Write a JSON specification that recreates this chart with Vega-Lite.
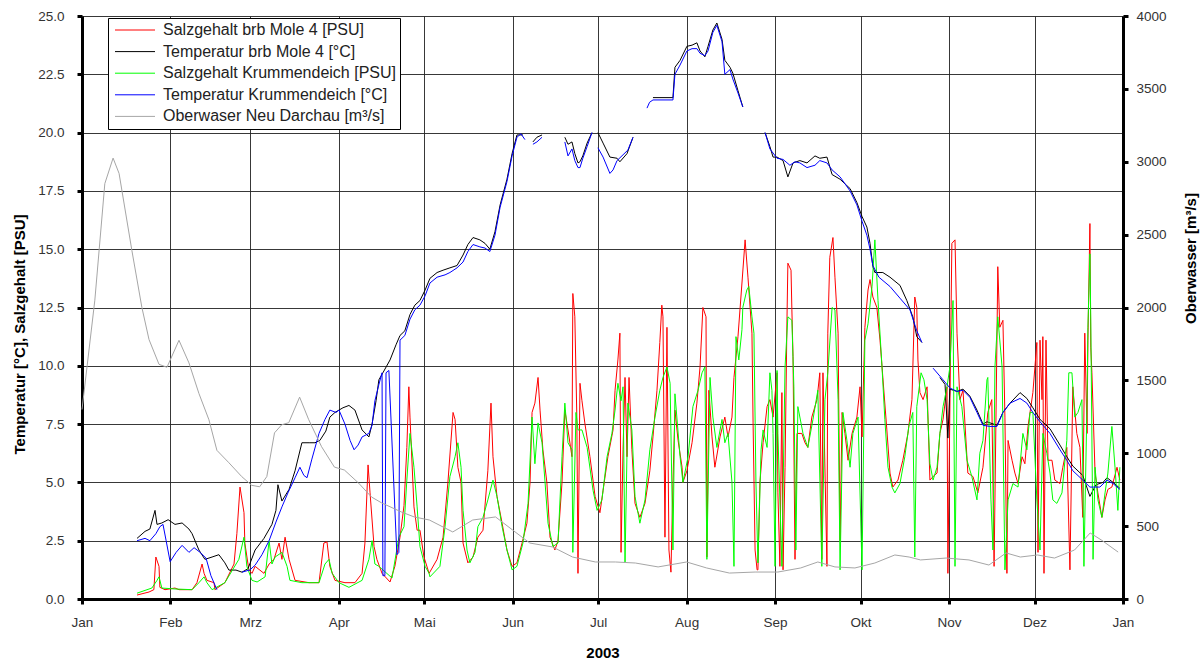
{
  "$schema": "https://vega.github.io/schema/vega-lite/v6.json",
  "width": 1041,
  "height": 583,
  "autosize": {"type": "none"},
  "padding": {"left": 82, "top": 16, "right": 81, "bottom": 63},
  "background": "#ffffff",
  "config": {
    "font": "Liberation Sans",
    "view": {"stroke": null},
    "axis": {
      "labelFont": "Liberation Sans", "labelFontSize": 13.5, "labelColor": "#333333",
      "titleFont": "Liberation Sans", "titleFontSize": 15, "titleFontWeight": "bold", "titleColor": "#000000",
      "domainColor": "#000000", "domainWidth": 3, "tickColor": "#000000", "tickWidth": 3, "tickSize": 5,
      "gridColor": "#222222", "gridWidth": 1, "gridOpacity": 0.9
    },
    "legend": {"labelFont": "Liberation Sans"}
  },
  "encoding": {
    "x": {
      "field": "d", "type": "quantitative",
      "scale": {"domain": [0, 365], "nice": false, "zero": false},
      "axis": {
        "values": [0, 31, 59, 90, 120, 151, 181, 212, 243, 273, 304, 334, 365],
        "labelExpr": "['Jan','Feb','Mrz','Apr','Mai','Jun','Jul','Aug','Sep','Okt','Nov','Dez','Jan'][indexof([0,31,59,90,120,151,181,212,243,273,304,334,365], datum.value)]",
        "labelFlush": false, "labelPadding": 11, "grid": true,
        "title": "2003", "titleY": 53, "titleBaseline": "middle"
      }
    }
  },
  "layer": [
    {
      "encoding": {
        "y": {
          "field": "v", "type": "quantitative",
          "scale": {"domain": [0, 25], "nice": false, "zero": true},
          "axis": {
            "values": [0, 2.5, 5, 7.5, 10, 12.5, 15, 17.5, 20, 22.5, 25],
            "format": ".1f", "grid": true, "labelPadding": 13,
            "title": "Temperatur [°C], Salzgehalt [PSU]",
            "titleAngle": 270, "titleX": -63, "titleY": 318, "titleBaseline": "middle", "titleAlign": "center"
          }
        }
      },
      "layer": [
        {
          "data": {"values": [
            {"d":19.3,"v":0.17},{"d":23.5,"v":0.3},{"d":25.2,"v":0.4},{"d":25.9,"v":1.8},{"d":27.0,"v":1.4},{"d":27.3,"v":0.5},{"d":29.1,"v":0.4},{"d":32.6,"v":0.47},{"d":34.0,"v":0.4},{"d":38.6,"v":0.4},{"d":40.3,"v":0.7},{"d":42.1,"v":1.5},{"d":42.8,"v":1.1},{"d":43.8,"v":0.8},{"d":46.3,"v":0.7},{"d":46.6,"v":0.4},{"d":50.1,"v":0.7},{"d":53.3,"v":1.5},{"d":54.3,"v":2.8},{"d":55.4,"v":4.8},{"d":56.8,"v":3.7},{"d":57.1,"v":2.4},{"d":58.5,"v":1.25},{"d":59.6,"v":1.1},{"d":60.7,"v":1.4},{"d":63.8,"v":1.1},{"d":65.6,"v":1.5},{"d":67.3,"v":1.7},{"d":69.1,"v":2.4},{"d":70.1,"v":1.7},{"d":71.2,"v":2.65},{"d":72.6,"v":1.7},{"d":74.7,"v":0.8},{"d":79.6,"v":0.7},{"d":83.1,"v":0.7},{"d":84.8,"v":2.4},{"d":85.9,"v":2.45},{"d":86.9,"v":1.4},{"d":88.7,"v":0.8},{"d":92.2,"v":0.7},{"d":95.7,"v":0.7},{"d":98.2,"v":1.1},{"d":99.2,"v":2.4},{"d":100.3,"v":5.75},{"d":101.0,"v":4.55},{"d":102.4,"v":2.25},{"d":103.4,"v":1.7},{"d":105.2,"v":1.1},{"d":108.0,"v":0.73},{"d":109.7,"v":1.4},{"d":111.5,"v":2.65},{"d":112.9,"v":4.0},{"d":113.9,"v":6.5},{"d":114.6,"v":9.1},{"d":115.0,"v":7.8},{"d":116.4,"v":3.95},{"d":117.5,"v":2.95},{"d":118.5,"v":2.95},{"d":119.9,"v":1.8},{"d":121.7,"v":1.1},{"d":124.5,"v":1.7},{"d":126.6,"v":2.65},{"d":128.3,"v":5.0},{"d":130.1,"v":8.0},{"d":130.8,"v":7.7},{"d":131.8,"v":5.65},{"d":132.9,"v":5.0},{"d":133.6,"v":2.4},{"d":135.3,"v":1.55},{"d":137.1,"v":1.8},{"d":138.8,"v":2.65},{"d":140.6,"v":2.95},{"d":142.3,"v":5.5},{"d":143.4,"v":8.4},{"d":144.1,"v":6.1},{"d":145.5,"v":4.4},{"d":147.3,"v":3.25},{"d":149.0,"v":2.1},{"d":150.8,"v":1.4},{"d":152.5,"v":1.55},{"d":154.3,"v":2.4},{"d":156.0,"v":3.25},{"d":157.1,"v":5.0},{"d":157.8,"v":8.0},{"d":158.8,"v":8.4},{"d":159.9,"v":9.5},{"d":160.6,"v":8.1},{"d":161.6,"v":6.4},{"d":163.0,"v":5.0},{"d":164.1,"v":2.65},{"d":165.8,"v":2.1},{"d":166.9,"v":2.5},{"d":168.3,"v":5.0},{"d":169.3,"v":8.1},{"d":170.4,"v":7.25},{"d":171.8,"v":6.1},{"d":172.1,"v":13.1},{"d":172.8,"v":12.1},{"d":173.5,"v":7.8},{"d":173.9,"v":1.1},{"d":174.6,"v":9.25},{"d":175.3,"v":8.5},{"d":176.3,"v":7.55},{"d":178.1,"v":6.1},{"d":179.9,"v":4.4},{"d":181.6,"v":3.7},{"d":182.7,"v":4.65},{"d":184.4,"v":6.1},{"d":186.2,"v":7.25},{"d":186.9,"v":8.95},{"d":187.9,"v":10.25},{"d":188.6,"v":11.4},{"d":189.0,"v":2.0},{"d":189.7,"v":6.4},{"d":190.4,"v":9.5},{"d":191.1,"v":6.1},{"d":191.8,"v":9.5},{"d":192.8,"v":6.4},{"d":193.9,"v":4.1},{"d":195.6,"v":3.5},{"d":197.4,"v":4.1},{"d":199.1,"v":5.5},{"d":200.2,"v":6.95},{"d":201.6,"v":8.95},{"d":202.6,"v":11.0},{"d":203.3,"v":12.6},{"d":203.7,"v":12.1},{"d":204.4,"v":2.65},{"d":205.1,"v":11.65},{"d":205.8,"v":2.1},{"d":206.5,"v":1.15},{"d":207.2,"v":5.0},{"d":207.9,"v":8.1},{"d":209.0,"v":6.8},{"d":210.4,"v":5.65},{"d":210.7,"v":5.0},{"d":212.1,"v":5.5},{"d":213.9,"v":6.7},{"d":215.6,"v":8.4},{"d":216.7,"v":9.95},{"d":217.7,"v":12.5},{"d":218.8,"v":12.1},{"d":219.1,"v":1.8},{"d":219.8,"v":8.95},{"d":220.9,"v":6.95},{"d":221.9,"v":5.65},{"d":223.7,"v":6.95},{"d":225.4,"v":7.8},{"d":226.5,"v":6.95},{"d":227.9,"v":7.8},{"d":228.6,"v":9.5},{"d":230.0,"v":11.25},{"d":231.4,"v":13.55},{"d":232.5,"v":15.4},{"d":233.5,"v":13.8},{"d":234.9,"v":11.4},{"d":235.3,"v":7.55},{"d":236.0,"v":2.1},{"d":236.7,"v":1.25},{"d":237.0,"v":1.25},{"d":237.7,"v":5.0},{"d":238.8,"v":6.7},{"d":240.2,"v":8.25},{"d":241.2,"v":8.55},{"d":242.3,"v":7.8},{"d":243.7,"v":9.7},{"d":244.0,"v":4.55},{"d":244.7,"v":1.4},{"d":245.4,"v":8.85},{"d":245.8,"v":1.25},{"d":246.5,"v":5.65},{"d":247.2,"v":12.1},{"d":247.5,"v":14.4},{"d":248.6,"v":14.1},{"d":248.9,"v":12.4},{"d":249.3,"v":10.4},{"d":250.0,"v":1.7},{"d":250.7,"v":7.1},{"d":252.4,"v":7.1},{"d":253.5,"v":6.7},{"d":254.5,"v":6.5},{"d":255.9,"v":7.8},{"d":257.7,"v":8.55},{"d":258.7,"v":9.7},{"d":259.4,"v":1.7},{"d":259.8,"v":9.7},{"d":261.2,"v":1.4},{"d":261.5,"v":11.4},{"d":262.2,"v":14.65},{"d":263.3,"v":15.5},{"d":264.0,"v":13.8},{"d":265.1,"v":11.4},{"d":265.8,"v":2.5},{"d":266.5,"v":8.0},{"d":267.5,"v":7.1},{"d":268.6,"v":5.95},{"d":270.0,"v":7.1},{"d":271.7,"v":7.8},{"d":272.8,"v":9.1},{"d":273.5,"v":6.95},{"d":274.5,"v":11.65},{"d":275.6,"v":13.25},{"d":276.3,"v":13.7},{"d":277.3,"v":12.95},{"d":278.7,"v":12.5},{"d":279.8,"v":11.1},{"d":280.8,"v":9.5},{"d":282.2,"v":7.25},{"d":283.3,"v":5.4},{"d":284.3,"v":4.8},{"d":286.1,"v":5.1},{"d":287.8,"v":5.95},{"d":289.6,"v":7.1},{"d":291.0,"v":8.55},{"d":292.0,"v":12.95},{"d":292.7,"v":12.5},{"d":293.1,"v":10.25},{"d":293.8,"v":8.85},{"d":294.9,"v":8.55},{"d":296.3,"v":9.1},{"d":297.3,"v":5.1},{"d":298.4,"v":5.25},{"d":299.8,"v":5.4},{"d":300.8,"v":7.1},{"d":301.9,"v":7.7},{"d":303.3,"v":9.1},{"d":303.6,"v":1.1},{"d":305.0,"v":15.25},{"d":306.1,"v":15.4},{"d":306.8,"v":11.4},{"d":307.8,"v":8.55},{"d":308.9,"v":8.95},{"d":310.6,"v":5.4},{"d":312.4,"v":5.25},{"d":314.1,"v":4.55},{"d":315.9,"v":5.65},{"d":317.6,"v":8.0},{"d":319.0,"v":8.55},{"d":319.8,"v":1.4},{"d":320.8,"v":11.1},{"d":321.1,"v":14.25},{"d":321.8,"v":11.65},{"d":322.9,"v":11.95},{"d":323.6,"v":7.8},{"d":324.3,"v":1.1},{"d":324.7,"v":6.8},{"d":326.1,"v":5.95},{"d":327.1,"v":5.4},{"d":328.2,"v":4.95},{"d":329.6,"v":6.1},{"d":330.6,"v":5.8},{"d":331.7,"v":7.4},{"d":333.4,"v":8.85},{"d":334.8,"v":11.0},{"d":335.2,"v":2.0},{"d":335.9,"v":11.1},{"d":336.6,"v":8.55},{"d":336.9,"v":11.25},{"d":337.3,"v":1.1},{"d":338.0,"v":11.1},{"d":338.7,"v":5.95},{"d":340.1,"v":5.95},{"d":341.1,"v":5.1},{"d":342.9,"v":4.95},{"d":343.9,"v":5.65},{"d":345.3,"v":6.5},{"d":346.4,"v":1.25},{"d":347.4,"v":9.1},{"d":348.8,"v":7.1},{"d":349.9,"v":6.5},{"d":350.9,"v":3.5},{"d":351.6,"v":11.4},{"d":352.4,"v":7.1},{"d":352.7,"v":11.1},{"d":353.4,"v":16.1},{"d":353.7,"v":10.8},{"d":354.1,"v":9.7},{"d":355.2,"v":5.4},{"d":356.2,"v":4.55},{"d":357.6,"v":3.5},{"d":358.7,"v":4.25},{"d":359.7,"v":4.7},{"d":361.1,"v":4.8},{"d":362.9,"v":5.65},{"d":363.9,"v":5.1}
          ]},
          "mark": {"type": "line", "strokeWidth": 1, "interpolate": "linear"},
          "encoding": {
            "color": {
              "datum": "Salzgehalt brb Mole 4 [PSU]", "type": "nominal",
              "scale": {
                "domain": ["Salzgehalt brb Mole 4 [PSU]", "Temperatur brb Mole 4 [°C]", "Salzgehalt Krummendeich [PSU]", "Temperatur Krummendeich [°C]", "Oberwaser Neu Darchau [m³/s]"],
                "range": ["#ff0000", "#000000", "#00ff00", "#0000ff", "#a6a6a6"]
              },
              "legend": {
                "orient": "none", "legendX": 26, "legendY": 2, "direction": "vertical", "title": null,
                "symbolType": "M-1,0H7", "symbolSize": 100, "symbolStrokeWidth": 1,
                "labelFontSize": 16, "labelColor": "#222222", "labelOffset": 35, "labelLimit": 400,
                "padding": 4, "rowPadding": 5.6, "strokeColor": "#000000", "fillColor": "#ffffff"
              }
            }
          }
        },
        {
          "data": {"values": [
            {"g":1,"d":19.3,"v":2.6},{"g":1,"d":22.1,"v":2.9},{"g":1,"d":23.8,"v":3.0},{"g":1,"d":25.6,"v":3.8},{"g":1,"d":26.3,"v":3.2},{"g":1,"d":28.0,"v":3.26},{"g":1,"d":30.2,"v":3.4},{"g":1,"d":32.6,"v":3.2},{"g":1,"d":35.1,"v":3.26},{"g":1,"d":37.5,"v":3.0},{"g":1,"d":38.6,"v":2.8},{"g":1,"d":41.0,"v":2.1},{"g":1,"d":43.1,"v":1.7},{"g":1,"d":45.6,"v":1.8},{"g":1,"d":48.0,"v":1.9},{"g":1,"d":50.1,"v":1.55},{"g":1,"d":51.5,"v":1.24},{"g":1,"d":54.0,"v":1.24},{"g":1,"d":56.1,"v":1.15},{"g":1,"d":58.2,"v":1.3},{"g":1,"d":60.7,"v":2.1},{"g":1,"d":63.8,"v":2.6},{"g":1,"d":66.6,"v":3.2},{"g":1,"d":68.0,"v":3.8},{"g":1,"d":68.7,"v":4.9},{"g":1,"d":70.1,"v":4.2},{"g":1,"d":72.6,"v":4.7},{"g":1,"d":74.7,"v":5.5},{"g":1,"d":77.1,"v":6.7},{"g":1,"d":79.9,"v":6.7},{"g":1,"d":81.7,"v":6.7},{"g":1,"d":83.4,"v":6.8},{"g":1,"d":85.5,"v":7.2},{"g":1,"d":86.9,"v":7.8},{"g":1,"d":88.7,"v":8.0},{"g":1,"d":91.5,"v":8.2},{"g":1,"d":93.6,"v":8.3},{"g":1,"d":95.7,"v":8.1},{"g":1,"d":98.2,"v":7.25},{"g":1,"d":100.6,"v":6.95},{"g":1,"d":101.7,"v":7.5},{"g":1,"d":103.1,"v":8.5},{"g":1,"d":104.1,"v":9.4},{"g":1,"d":105.5,"v":9.7},{"g":1,"d":108.0,"v":10.25},{"g":1,"d":110.1,"v":10.9},{"g":1,"d":111.5,"v":11.3},{"g":1,"d":113.2,"v":11.5},{"g":1,"d":115.0,"v":12.2},{"g":1,"d":116.7,"v":12.6},{"g":1,"d":118.5,"v":12.8},{"g":1,"d":120.3,"v":13.25},{"g":1,"d":122.0,"v":13.75},{"g":1,"d":124.5,"v":14.0},{"g":1,"d":126.6,"v":14.1},{"g":1,"d":129.0,"v":14.2},{"g":1,"d":131.5,"v":14.3},{"g":1,"d":133.6,"v":14.75},{"g":1,"d":135.3,"v":15.2},{"g":1,"d":137.1,"v":15.5},{"g":1,"d":139.5,"v":15.4},{"g":1,"d":141.3,"v":15.25},{"g":1,"d":143.0,"v":15.0},{"g":1,"d":144.8,"v":15.75},{"g":1,"d":146.6,"v":16.9},{"g":1,"d":149.0,"v":18.0},{"g":1,"d":150.8,"v":19.1},{"g":1,"d":152.5,"v":19.9},{"g":1,"d":154.6,"v":19.9},
            {"g":2,"d":158.1,"v":19.6},{"g":2,"d":159.5,"v":19.8},{"g":2,"d":161.3,"v":19.9},
            {"g":3,"d":169.3,"v":19.8},{"g":3,"d":170.4,"v":19.5},{"g":3,"d":171.8,"v":19.6},{"g":3,"d":172.8,"v":19.1},{"g":3,"d":173.9,"v":18.7},{"g":3,"d":174.6,"v":18.75},{"g":3,"d":175.6,"v":19.0},{"g":3,"d":177.1,"v":19.55},{"g":3,"d":178.8,"v":20.0},
            {"g":4,"d":180.9,"v":20.0},{"g":4,"d":182.7,"v":19.55},{"g":4,"d":185.1,"v":18.95},{"g":4,"d":187.6,"v":18.9},{"g":4,"d":188.6,"v":18.75},{"g":4,"d":191.1,"v":19.1},{"g":4,"d":193.2,"v":19.8},
            {"g":5,"d":200.2,"v":21.5},{"g":5,"d":207.2,"v":21.5},{"g":5,"d":207.9,"v":22.8},{"g":5,"d":209.7,"v":23.1},{"g":5,"d":212.1,"v":23.7},{"g":5,"d":213.9,"v":23.75},{"g":5,"d":215.6,"v":23.85},{"g":5,"d":216.7,"v":23.5},{"g":5,"d":218.4,"v":23.25},{"g":5,"d":219.5,"v":23.7},{"g":5,"d":221.2,"v":24.4},{"g":5,"d":222.6,"v":24.7},{"g":5,"d":224.4,"v":24.0},{"g":5,"d":225.4,"v":23.1},{"g":5,"d":227.2,"v":22.8},{"g":5,"d":228.2,"v":22.55},{"g":5,"d":230.0,"v":21.8},{"g":5,"d":231.7,"v":21.1},
            {"g":6,"d":239.5,"v":20.0},{"g":6,"d":241.2,"v":19.4},{"g":6,"d":242.3,"v":18.95},{"g":6,"d":243.7,"v":18.95},{"g":6,"d":245.8,"v":18.8},{"g":6,"d":247.5,"v":18.1},{"g":6,"d":249.3,"v":18.7},{"g":6,"d":251.7,"v":18.8},{"g":6,"d":254.2,"v":18.7},{"g":6,"d":257.0,"v":19.0},{"g":6,"d":258.7,"v":18.9},{"g":6,"d":261.2,"v":18.95},{"g":6,"d":263.0,"v":18.2},{"g":6,"d":265.8,"v":18.0},{"g":6,"d":269.3,"v":17.6},{"g":6,"d":271.7,"v":17.0},{"g":6,"d":273.5,"v":16.4},{"g":6,"d":275.2,"v":15.95},{"g":6,"d":276.3,"v":15.25},{"g":6,"d":277.3,"v":14.25},{"g":6,"d":278.0,"v":14.0},{"g":6,"d":280.8,"v":14.0},{"g":6,"d":283.3,"v":13.8},{"g":6,"d":286.8,"v":13.45},{"g":6,"d":289.2,"v":12.8},{"g":6,"d":291.3,"v":12.1},{"g":6,"d":292.7,"v":11.25},{"g":6,"d":294.5,"v":11.0},
            {"g":7,"d":300.8,"v":9.5},{"g":7,"d":302.6,"v":9.2},{"g":7,"d":303.6,"v":6.9},{"g":7,"d":304.3,"v":9.0},{"g":7,"d":306.8,"v":8.9},{"g":7,"d":308.9,"v":9.0},{"g":7,"d":311.3,"v":8.7},{"g":7,"d":313.8,"v":8.1},{"g":7,"d":315.9,"v":7.5},{"g":7,"d":317.3,"v":7.6},{"g":7,"d":320.8,"v":7.45},{"g":7,"d":322.9,"v":8.0},{"g":7,"d":325.4,"v":8.4},{"g":7,"d":328.9,"v":8.85},{"g":7,"d":331.3,"v":8.6},{"g":7,"d":333.4,"v":8.2},{"g":7,"d":335.9,"v":7.7},{"g":7,"d":339.4,"v":7.3},{"g":7,"d":342.9,"v":6.6},{"g":7,"d":345.3,"v":6.1},{"g":7,"d":347.4,"v":5.7},{"g":7,"d":350.9,"v":5.3},{"g":7,"d":353.4,"v":4.4},{"g":7,"d":355.5,"v":4.9},{"g":7,"d":358.0,"v":5.0},{"g":7,"d":359.4,"v":5.2},{"g":7,"d":361.5,"v":5.0},{"g":7,"d":363.9,"v":4.75}
          ]},
          "mark": {"type": "line", "strokeWidth": 1},
          "encoding": {
            "color": {"datum": "Temperatur brb Mole 4 [°C]", "type": "nominal"},
            "detail": {"field": "g", "type": "nominal"}
          }
        },
        {
          "data": {"values": [
            {"d":19.3,"v":0.25},{"d":24.5,"v":0.47},{"d":26.3,"v":0.8},{"d":27.0,"v":0.95},{"d":28.0,"v":0.47},{"d":32.6,"v":0.43},{"d":38.6,"v":0.4},{"d":41.0,"v":0.7},{"d":42.8,"v":0.95},{"d":43.8,"v":0.7},{"d":45.6,"v":0.4},{"d":50.1,"v":0.7},{"d":55.0,"v":1.7},{"d":56.8,"v":2.65},{"d":57.8,"v":1.4},{"d":59.6,"v":0.8},{"d":61.4,"v":0.73},{"d":64.2,"v":0.95},{"d":65.6,"v":2.5},{"d":66.6,"v":1.5},{"d":67.7,"v":1.8},{"d":70.1,"v":2.0},{"d":71.9,"v":1.4},{"d":72.9,"v":0.8},{"d":77.1,"v":0.7},{"d":83.1,"v":0.7},{"d":85.2,"v":1.5},{"d":86.6,"v":1.7},{"d":87.7,"v":1.1},{"d":90.1,"v":0.7},{"d":93.6,"v":0.5},{"d":98.2,"v":0.8},{"d":100.6,"v":1.7},{"d":101.7,"v":2.5},{"d":102.7,"v":1.5},{"d":104.1,"v":1.4},{"d":108.7,"v":0.9},{"d":111.1,"v":2.65},{"d":112.9,"v":3.1},{"d":113.9,"v":5.1},{"d":115.0,"v":7.1},{"d":116.4,"v":5.65},{"d":117.5,"v":3.95},{"d":118.5,"v":2.25},{"d":120.3,"v":1.4},{"d":121.7,"v":1.1},{"d":122.0,"v":0.95},{"d":125.5,"v":1.4},{"d":127.3,"v":3.1},{"d":129.0,"v":5.25},{"d":130.8,"v":6.1},{"d":131.8,"v":6.7},{"d":132.9,"v":5.65},{"d":133.6,"v":3.8},{"d":135.0,"v":2.1},{"d":136.0,"v":1.55},{"d":137.8,"v":2.0},{"d":138.8,"v":3.1},{"d":140.6,"v":3.5},{"d":142.3,"v":4.25},{"d":144.1,"v":5.1},{"d":145.5,"v":4.4},{"d":147.3,"v":3.1},{"d":149.0,"v":2.1},{"d":150.8,"v":1.25},{"d":152.5,"v":1.4},{"d":154.6,"v":2.4},{"d":156.4,"v":4.1},{"d":157.8,"v":7.8},{"d":158.8,"v":5.8},{"d":159.9,"v":7.55},{"d":161.3,"v":6.7},{"d":162.3,"v":5.1},{"d":163.4,"v":3.25},{"d":165.1,"v":2.25},{"d":166.9,"v":2.4},{"d":168.3,"v":6.1},{"d":169.3,"v":8.4},{"d":170.4,"v":6.7},{"d":171.8,"v":6.4},{"d":172.1,"v":2.0},{"d":173.2,"v":8.0},{"d":173.9,"v":7.25},{"d":175.3,"v":7.25},{"d":177.1,"v":6.5},{"d":179.2,"v":4.65},{"d":180.6,"v":3.8},{"d":182.3,"v":4.25},{"d":184.1,"v":6.1},{"d":185.8,"v":7.1},{"d":186.9,"v":8.1},{"d":187.9,"v":9.25},{"d":189.0,"v":8.5},{"d":189.7,"v":9.1},{"d":190.4,"v":1.55},{"d":191.4,"v":8.4},{"d":192.8,"v":7.25},{"d":193.9,"v":4.4},{"d":195.6,"v":3.25},{"d":197.4,"v":4.25},{"d":199.1,"v":6.4},{"d":200.9,"v":7.8},{"d":202.6,"v":8.95},{"d":203.7,"v":9.5},{"d":205.1,"v":9.95},{"d":206.2,"v":9.25},{"d":207.2,"v":2.1},{"d":207.9,"v":8.8},{"d":209.7,"v":6.1},{"d":210.7,"v":5.0},{"d":212.5,"v":6.1},{"d":214.2,"v":8.25},{"d":216.0,"v":8.95},{"d":217.4,"v":9.7},{"d":218.4,"v":9.95},{"d":219.1,"v":1.7},{"d":220.2,"v":9.5},{"d":221.2,"v":7.8},{"d":222.6,"v":6.5},{"d":224.4,"v":7.7},{"d":225.4,"v":6.7},{"d":226.5,"v":7.1},{"d":227.9,"v":5.0},{"d":228.6,"v":1.4},{"d":229.3,"v":11.25},{"d":230.3,"v":10.25},{"d":231.4,"v":11.55},{"d":231.7,"v":12.5},{"d":233.1,"v":13.25},{"d":233.8,"v":13.4},{"d":234.9,"v":12.1},{"d":235.6,"v":11.4},{"d":236.3,"v":5.0},{"d":237.0,"v":1.55},{"d":238.1,"v":6.4},{"d":238.8,"v":7.25},{"d":240.2,"v":6.5},{"d":241.2,"v":9.7},{"d":241.9,"v":8.95},{"d":242.3,"v":7.1},{"d":243.0,"v":1.4},{"d":243.7,"v":9.8},{"d":244.0,"v":7.1},{"d":245.4,"v":1.4},{"d":246.5,"v":9.95},{"d":247.5,"v":12.1},{"d":248.9,"v":11.95},{"d":249.6,"v":9.1},{"d":250.3,"v":2.1},{"d":251.0,"v":8.25},{"d":252.8,"v":7.1},{"d":254.5,"v":6.5},{"d":256.3,"v":7.7},{"d":258.0,"v":8.95},{"d":259.4,"v":1.4},{"d":260.5,"v":8.55},{"d":261.5,"v":9.7},{"d":263.0,"v":12.5},{"d":264.0,"v":12.4},{"d":265.1,"v":8.55},{"d":265.8,"v":1.25},{"d":266.8,"v":8.0},{"d":268.2,"v":6.8},{"d":269.3,"v":5.65},{"d":270.3,"v":7.1},{"d":272.1,"v":7.8},{"d":273.5,"v":1.25},{"d":274.5,"v":11.1},{"d":275.6,"v":11.8},{"d":277.0,"v":13.4},{"d":278.0,"v":15.4},{"d":279.1,"v":12.8},{"d":280.5,"v":9.95},{"d":281.5,"v":7.7},{"d":282.6,"v":5.65},{"d":284.0,"v":4.8},{"d":285.0,"v":4.55},{"d":286.8,"v":4.95},{"d":288.5,"v":6.1},{"d":289.9,"v":7.4},{"d":291.3,"v":8.0},{"d":292.0,"v":1.8},{"d":292.7,"v":8.25},{"d":294.2,"v":9.7},{"d":295.2,"v":9.4},{"d":296.3,"v":8.55},{"d":297.3,"v":5.8},{"d":298.4,"v":5.1},{"d":299.8,"v":5.65},{"d":300.8,"v":7.1},{"d":301.9,"v":8.25},{"d":303.3,"v":9.1},{"d":304.3,"v":9.95},{"d":305.4,"v":12.8},{"d":306.1,"v":1.4},{"d":306.8,"v":9.1},{"d":308.5,"v":8.25},{"d":310.3,"v":5.95},{"d":312.0,"v":5.25},{"d":313.8,"v":4.25},{"d":314.8,"v":6.25},{"d":315.9,"v":6.8},{"d":317.3,"v":9.4},{"d":317.6,"v":9.5},{"d":318.7,"v":4.25},{"d":319.4,"v":2.1},{"d":320.1,"v":9.95},{"d":321.1,"v":12.1},{"d":322.6,"v":9.95},{"d":323.6,"v":1.25},{"d":324.7,"v":4.25},{"d":326.4,"v":4.95},{"d":328.2,"v":4.8},{"d":329.9,"v":7.1},{"d":331.3,"v":6.4},{"d":332.4,"v":8.0},{"d":333.4,"v":8.0},{"d":334.8,"v":4.25},{"d":335.9,"v":2.1},{"d":336.9,"v":7.1},{"d":338.3,"v":6.25},{"d":339.4,"v":5.4},{"d":340.4,"v":4.25},{"d":341.8,"v":4.1},{"d":343.6,"v":4.55},{"d":345.3,"v":6.8},{"d":346.0,"v":9.7},{"d":347.1,"v":9.7},{"d":348.1,"v":7.8},{"d":349.2,"v":8.0},{"d":350.6,"v":8.55},{"d":351.3,"v":1.4},{"d":352.4,"v":8.55},{"d":352.7,"v":11.65},{"d":353.4,"v":14.8},{"d":353.7,"v":12.0},{"d":354.5,"v":1.7},{"d":355.2,"v":5.65},{"d":356.2,"v":4.25},{"d":357.6,"v":3.5},{"d":358.7,"v":4.55},{"d":359.7,"v":5.4},{"d":361.1,"v":7.4},{"d":362.2,"v":5.65},{"d":363.2,"v":3.8},{"d":363.9,"v":5.65}
          ]},
          "mark": {"type": "line", "strokeWidth": 1},
          "encoding": {
            "color": {"datum": "Salzgehalt Krummendeich [PSU]", "type": "nominal"}
          }
        },
        {
          "data": {"values": [
            {"g":1,"d":19.3,"v":2.5},{"g":1,"d":22.1,"v":2.6},{"g":1,"d":23.8,"v":2.5},{"g":1,"d":25.9,"v":2.8},{"g":1,"d":27.3,"v":3.1},{"g":1,"d":28.4,"v":3.2},{"g":1,"d":29.5,"v":2.5},{"g":1,"d":30.9,"v":1.6},{"g":1,"d":33.0,"v":2.0},{"g":1,"d":35.1,"v":2.3},{"g":1,"d":37.5,"v":2.0},{"g":1,"d":39.3,"v":2.2},{"g":1,"d":41.4,"v":2.0},{"g":1,"d":43.5,"v":1.75},{"g":1,"d":45.2,"v":1.0},{"g":1,"d":47.3,"v":0.4},
            {"g":2,"d":56.1,"v":1.15},{"g":2,"d":58.9,"v":1.25},{"g":2,"d":60.7,"v":1.45},{"g":2,"d":63.1,"v":1.9},{"g":2,"d":65.6,"v":2.5},{"g":2,"d":68.0,"v":3.3},{"g":2,"d":70.1,"v":3.95},{"g":2,"d":72.2,"v":4.55},{"g":2,"d":74.7,"v":5.2},{"g":2,"d":76.4,"v":5.65},{"g":2,"d":77.8,"v":5.3},{"g":2,"d":78.9,"v":5.2},{"g":2,"d":80.6,"v":6.0},{"g":2,"d":83.1,"v":7.1},{"g":2,"d":85.2,"v":7.7},{"g":2,"d":86.9,"v":8.1},{"g":2,"d":89.1,"v":8.0},{"g":2,"d":90.1,"v":8.1},{"g":2,"d":92.2,"v":7.5},{"g":2,"d":94.0,"v":6.8},{"g":2,"d":95.4,"v":6.4},{"g":2,"d":96.8,"v":6.6},{"g":2,"d":98.2,"v":6.95},{"g":2,"d":100.6,"v":7.1},{"g":2,"d":101.7,"v":7.45},{"g":2,"d":102.7,"v":8.5},{"g":2,"d":104.1,"v":9.2},{"g":2,"d":105.2,"v":9.7},{"g":2,"d":105.5,"v":1.0},{"g":2,"d":106.2,"v":1.0},{"g":2,"d":106.6,"v":9.7},{"g":2,"d":107.6,"v":9.8},{"g":2,"d":110.4,"v":1.9},{"g":2,"d":111.1,"v":2.0},{"g":2,"d":111.5,"v":11.1},{"g":2,"d":113.2,"v":11.3},{"g":2,"d":115.0,"v":12.0},{"g":2,"d":116.7,"v":12.4},{"g":2,"d":118.5,"v":12.6},{"g":2,"d":120.3,"v":13.0},{"g":2,"d":122.0,"v":13.55},{"g":2,"d":124.5,"v":13.8},{"g":2,"d":127.3,"v":13.9},{"g":2,"d":129.0,"v":14.0},{"g":2,"d":131.5,"v":14.2},{"g":2,"d":133.6,"v":14.45},{"g":2,"d":135.3,"v":14.9},{"g":2,"d":137.1,"v":15.2},{"g":2,"d":139.5,"v":15.1},{"g":2,"d":141.3,"v":15.05},{"g":2,"d":143.0,"v":14.9},{"g":2,"d":144.8,"v":15.6},{"g":2,"d":146.6,"v":16.8},{"g":2,"d":149.0,"v":17.9},{"g":2,"d":150.8,"v":19.0},{"g":2,"d":152.5,"v":19.8},{"g":2,"d":153.9,"v":19.95},{"g":2,"d":155.3,"v":19.7},
            {"g":3,"d":158.1,"v":19.5},{"g":3,"d":159.5,"v":19.6},{"g":3,"d":161.3,"v":19.8},
            {"g":4,"d":169.3,"v":19.6},{"g":4,"d":170.4,"v":19.0},{"g":4,"d":171.8,"v":19.3},{"g":4,"d":172.8,"v":18.8},{"g":4,"d":173.9,"v":18.5},{"g":4,"d":174.6,"v":18.5},{"g":4,"d":175.6,"v":18.9},{"g":4,"d":177.1,"v":19.4},{"g":4,"d":178.8,"v":20.0},
            {"g":5,"d":180.9,"v":19.35},{"g":5,"d":182.7,"v":18.95},{"g":5,"d":185.1,"v":18.25},{"g":5,"d":186.2,"v":18.4},{"g":5,"d":187.6,"v":18.8},{"g":5,"d":189.7,"v":19.05},{"g":5,"d":191.4,"v":19.25},{"g":5,"d":193.2,"v":19.8},
            {"g":6,"d":198.1,"v":21.05},{"g":6,"d":199.0,"v":21.3},{"g":6,"d":200.2,"v":21.4},{"g":6,"d":207.2,"v":21.4},{"g":6,"d":207.9,"v":22.5},{"g":6,"d":209.7,"v":22.9},{"g":6,"d":212.1,"v":23.5},{"g":6,"d":213.9,"v":23.6},{"g":6,"d":215.6,"v":23.6},{"g":6,"d":216.7,"v":23.4},{"g":6,"d":218.4,"v":23.3},{"g":6,"d":219.5,"v":23.5},{"g":6,"d":221.2,"v":24.3},{"g":6,"d":222.6,"v":24.6},{"g":6,"d":224.4,"v":23.9},{"g":6,"d":225.4,"v":22.5},{"g":6,"d":227.2,"v":22.7},{"g":6,"d":228.2,"v":22.3},{"g":6,"d":230.0,"v":21.7},{"g":6,"d":231.7,"v":21.1},
            {"g":7,"d":239.5,"v":20.0},{"g":7,"d":241.2,"v":19.3},{"g":7,"d":243.7,"v":18.9},{"g":7,"d":245.8,"v":18.85},{"g":7,"d":248.2,"v":18.6},{"g":7,"d":250.0,"v":18.75},{"g":7,"d":251.7,"v":18.7},{"g":7,"d":254.2,"v":18.5},{"g":7,"d":257.0,"v":18.6},{"g":7,"d":258.7,"v":18.8},{"g":7,"d":261.2,"v":18.7},{"g":7,"d":263.0,"v":18.4},{"g":7,"d":265.8,"v":18.1},{"g":7,"d":269.3,"v":17.5},{"g":7,"d":271.7,"v":16.9},{"g":7,"d":273.5,"v":16.2},{"g":7,"d":275.2,"v":15.6},{"g":7,"d":276.3,"v":15.0},{"g":7,"d":277.3,"v":14.3},{"g":7,"d":279.4,"v":13.8},{"g":7,"d":283.3,"v":13.4},{"g":7,"d":286.8,"v":12.9},{"g":7,"d":290.3,"v":12.4},{"g":7,"d":292.7,"v":11.5},{"g":7,"d":294.5,"v":11.0},
            {"g":8,"d":298.4,"v":9.9},{"g":8,"d":301.9,"v":9.4},{"g":8,"d":304.3,"v":9.05},{"g":8,"d":306.8,"v":8.9},{"g":8,"d":308.9,"v":8.95},{"g":8,"d":311.3,"v":8.65},{"g":8,"d":313.8,"v":8.0},{"g":8,"d":315.9,"v":7.45},{"g":8,"d":318.3,"v":7.4},{"g":8,"d":320.8,"v":7.4},{"g":8,"d":322.9,"v":8.0},{"g":8,"d":325.4,"v":8.4},{"g":8,"d":328.9,"v":8.6},{"g":8,"d":331.3,"v":8.4},{"g":8,"d":333.4,"v":8.0},{"g":8,"d":335.9,"v":7.6},{"g":8,"d":339.4,"v":7.1},{"g":8,"d":342.9,"v":6.4},{"g":8,"d":345.3,"v":5.95},{"g":8,"d":347.4,"v":5.5},{"g":8,"d":350.9,"v":5.1},{"g":8,"d":353.4,"v":4.8},{"g":8,"d":356.9,"v":4.8},{"g":8,"d":359.4,"v":5.1},{"g":8,"d":361.5,"v":4.95},{"g":8,"d":363.9,"v":4.7}
          ]},
          "mark": {"type": "line", "strokeWidth": 1},
          "encoding": {
            "color": {"datum": "Temperatur Krummendeich [°C]", "type": "nominal"},
            "detail": {"field": "g", "type": "nominal"}
          }
        }
      ]
    },
    {
      "data": {"values": [
        {"d":0,"q":1300},{"d":4.5,"q":2050},{"d":8,"q":2850},{"d":10.9,"q":3025},{"d":13,"q":2920},{"d":17.5,"q":2390},{"d":21,"q":2000},{"d":23.5,"q":1780},{"d":27,"q":1610},{"d":29.8,"q":1590},{"d":34,"q":1775},{"d":37.5,"q":1620},{"d":41,"q":1410},{"d":44.5,"q":1230},{"d":47.3,"q":1020},{"d":51.5,"q":935},{"d":56,"q":840},{"d":59.5,"q":780},{"d":62.3,"q":770},{"d":64.8,"q":840},{"d":67.5,"q":1140},{"d":70,"q":1195},{"d":72.5,"q":1210},{"d":76.3,"q":1385},{"d":79.5,"q":1230},{"d":84,"q":1045},{"d":88.5,"q":905},{"d":92,"q":885},{"d":97,"q":795},{"d":101.5,"q":700},{"d":105,"q":660},{"d":112,"q":597},{"d":116.5,"q":563},{"d":121.8,"q":542},{"d":130,"q":460},{"d":137,"q":542},{"d":145,"q":563},{"d":151,"q":473},{"d":157,"q":384},{"d":165,"q":357},{"d":172,"q":288},{"d":180,"q":254},{"d":187,"q":254},{"d":194,"q":247},{"d":202,"q":220},{"d":212,"q":254},{"d":219,"q":213},{"d":227,"q":178},{"d":236,"q":185},{"d":244,"q":185},{"d":252,"q":213},{"d":258,"q":254},{"d":264,"q":220},{"d":271,"q":213},{"d":278,"q":247},{"d":285,"q":302},{"d":290,"q":288},{"d":294,"q":268},{"d":303,"q":281},{"d":311,"q":268},{"d":318,"q":233},{"d":324,"q":316},{"d":329,"q":288},{"d":335,"q":302},{"d":341,"q":281},{"d":348,"q":336},{"d":353.5,"q":453},{"d":357.4,"q":405},{"d":363.3,"q":322}
      ]},
      "mark": {"type": "line", "strokeWidth": 1},
      "encoding": {
        "y": {
          "field": "q", "type": "quantitative",
          "scale": {"domain": [0, 4000], "nice": false, "zero": true},
          "axis": {
            "orient": "right", "values": [0, 500, 1000, 1500, 2000, 2500, 3000, 3500, 4000],
            "format": "d", "grid": false, "labelPadding": 8,
            "title": "Oberwasser [m³/s]",
            "titleAngle": 270, "titleX": 67, "titleY": 242, "titleBaseline": "middle", "titleAlign": "center"
          }
        },
        "color": {"datum": "Oberwaser Neu Darchau [m³/s]", "type": "nominal"}
      }
    }
  ],
  "resolve": {"scale": {"y": "independent"}}
}
